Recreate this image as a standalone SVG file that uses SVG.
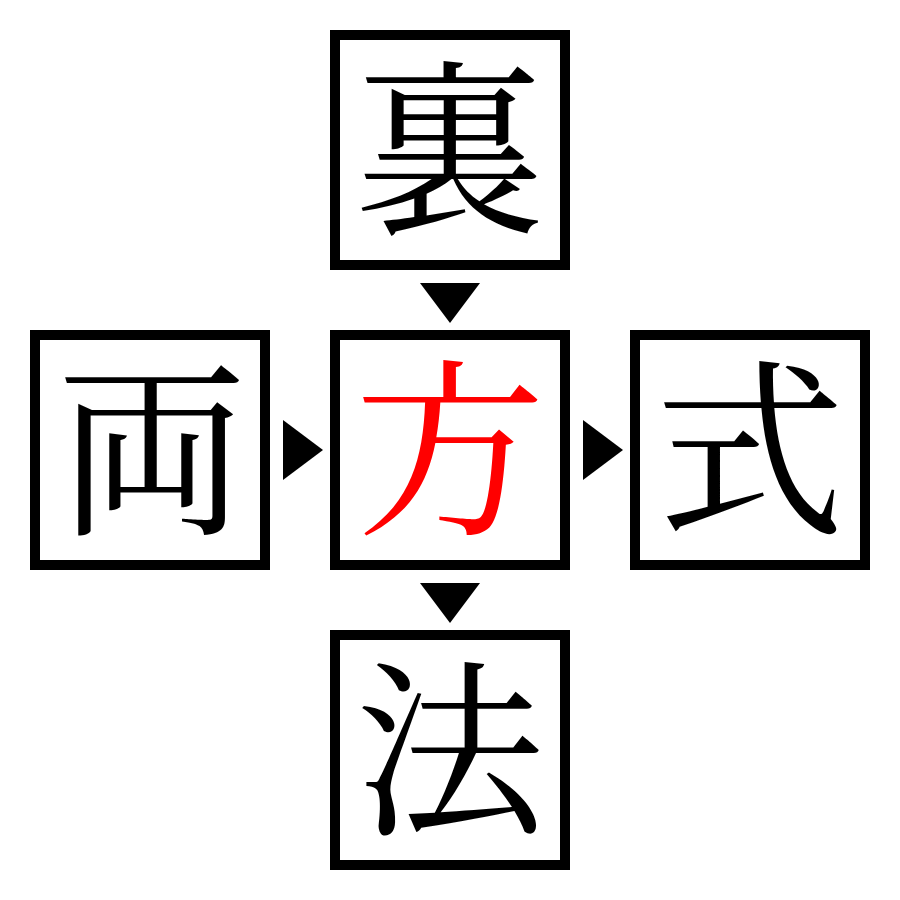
<svg xmlns="http://www.w3.org/2000/svg" width="900" height="900" viewBox="0 0 900 900">
<style>
.box{fill:#fff;stroke:#000;stroke-width:10}
.k{font-family:"Noto Serif CJK JP","Noto Sans CJK JP",serif;font-size:190px;text-anchor:middle;dominant-baseline:central;fill:#000}
.arrow{fill:#000}
</style>
<rect width="900" height="900" fill="#fff"/>
<g id="connectors">
<polygon class="arrow" points="420,283 480,283 450,323"/>
<polygon class="arrow" points="420,583 480,583 450,623"/>
<polygon class="arrow" points="283,420 283,480 323,450"/>
<polygon class="arrow" points="583,420 583,480 623,450"/>
</g>
<g id="node-top"><rect class="box" x="335" y="35" width="230" height="230"/><text class="k" x="450" y="137">裏</text></g>
<g id="node-left"><rect class="box" x="35" y="335" width="230" height="230"/><text class="k" x="152" y="437">両</text></g>
<g id="node-center"><rect class="box" x="335" y="335" width="230" height="230"/><text class="k" x="450" y="437" style="fill:#f00">方</text></g>
<g id="node-right"><rect class="box" x="635" y="335" width="230" height="230"/><text class="k" x="750" y="437">式</text></g>
<g id="node-bottom"><rect class="box" x="335" y="635" width="230" height="230"/><text class="k" x="450" y="737">法</text></g>
</svg>
